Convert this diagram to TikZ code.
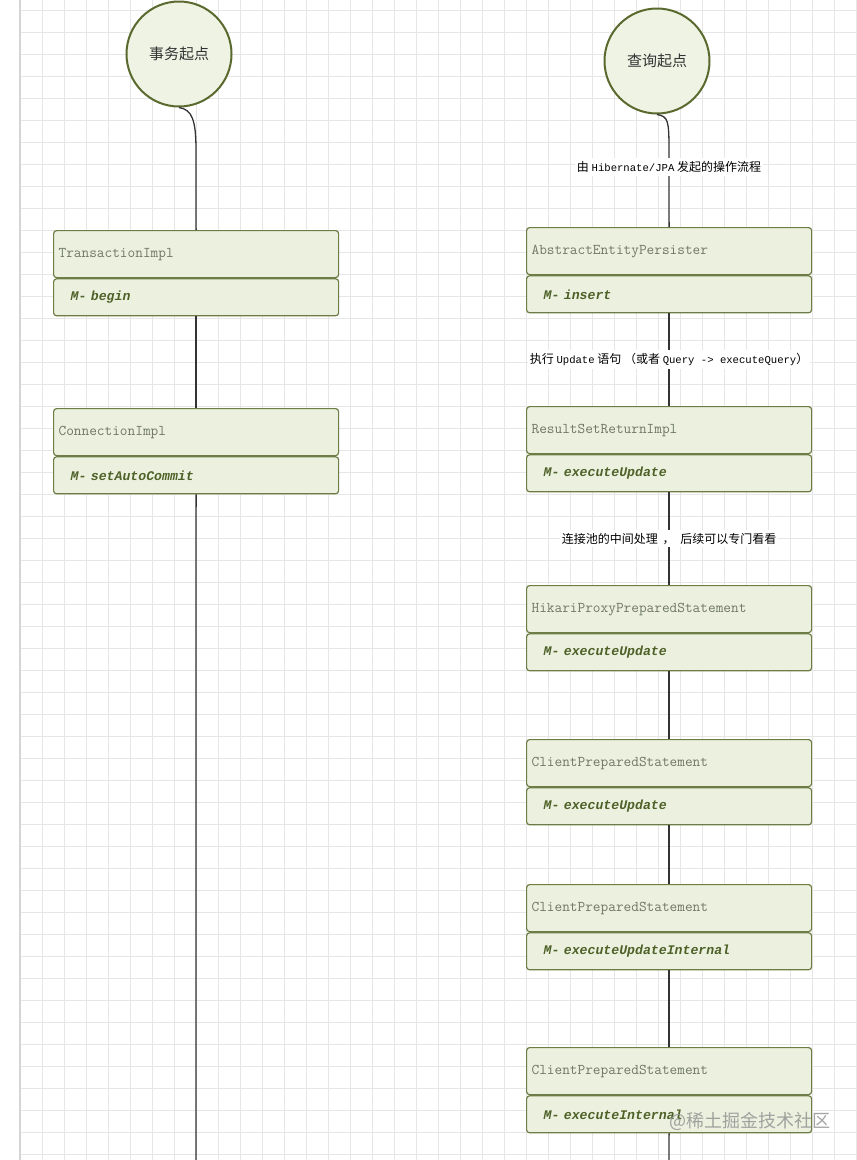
\documentclass[tikz,border=0pt]{standalone}
\usepackage{fontspec}
\newfontfamily\cjk{Noto Sans CJK SC}
\newfontfamily\monofnt{Liberation Mono}
\newfontfamily\lmmono{Latin Modern Mono}
\definecolor{boxfill}{HTML}{EBF1DE}
\definecolor{circfill}{HTML}{EEF3E4}
\definecolor{boxdraw}{HTML}{6E7D45}
\definecolor{circdraw}{HTML}{5A6A2E}
\definecolor{hdrtext}{HTML}{6E7862}
\definecolor{mtext}{HTML}{4E6128}
\definecolor{gridc}{HTML}{E6E6E6}
\definecolor{borderc}{HTML}{D4D4D4}
\newcommand\latw[1]{{\monofnt\fontsize{10.6}{12}\selectfont #1}}
\tikzset{
  hdr/.style={draw=boxdraw, fill=boxfill, line width=1.2pt, rounded corners=3pt,
    minimum height=47pt, inner xsep=5pt, text width=275pt, align=left, anchor=north west,
    font=\lmmono\fontsize{14.9}{16}\selectfont, text=hdrtext},
  mth/.style={draw=boxdraw, fill=boxfill, line width=1.2pt, rounded corners=3pt,
    minimum height=37pt, inner xsep=17pt, text width=251pt, align=left, anchor=north west,
    font=\monofnt\bfseries\itshape\fontsize{13.2}{15}\selectfont, text=mtext},
  circ/.style={circle, draw=circdraw, fill=circfill, line width=2pt, minimum size=105pt,
    font=\cjk\fontsize{15}{17}\selectfont, text=black!80},
  conn/.style={draw=black!80, line width=1.3pt},
  lbl/.style={fill=white, inner xsep=2pt, inner ysep=3pt, font=\cjk\fontsize{12}{14}\selectfont, text=black}
}
\begin{document}
\begin{tikzpicture}[x=1pt,y=-1pt]
\fill[white] (0,0) rectangle (857,1160);
\useasboundingbox (0,0) rectangle (857,1160);
% grid
\foreach \gx in {42,64,...,856} \draw[gridc, line width=0.8pt] (\gx,0) -- (\gx,1160);
\foreach \gy in {10,32,...,1160} \draw[gridc, line width=0.8pt] (20,\gy) -- (857,\gy);
\draw[borderc, line width=1.6pt] (20,0) -- (20,1160);

% left column
\node[circ] (c1) at (179,54) {事务起点};
\node[hdr] (t1h) at (53,230) {TransactionImpl};
\node[mth] (t1m) at (t1h.south west) {M- begin};
\node[hdr] (t2h) at (53,408) {ConnectionImpl};
\node[mth] (t2m) at (t2h.south west) {M- setAutoCommit};
\coordinate (k1) at (196,150);
\coordinate (e1) at (196,1160);
\draw[conn] (c1.south) .. controls +(13,2) and +(0,-30) .. (k1) -- (t1h.north);
\draw[conn] (t1m.south) -- (t2h.north);
\draw[conn] (t2m.south) -- (e1);

% right column
\node[circ] (c2) at (657,61) {查询起点};
\node[hdr] (r1h) at (526,227) {AbstractEntityPersister};
\node[mth] (r1m) at (r1h.south west) {M- insert};
\node[hdr] (r2h) at (526,406) {ResultSetReturnImpl};
\node[mth] (r2m) at (r2h.south west) {M- executeUpdate};
\node[hdr] (r3h) at (526,585) {HikariProxyPreparedStatement};
\node[mth] (r3m) at (r3h.south west) {M- executeUpdate};
\node[hdr] (r4h) at (526,739) {ClientPreparedStatement};
\node[mth] (r4m) at (r4h.south west) {M- executeUpdate};
\node[hdr] (r5h) at (526,884) {ClientPreparedStatement};
\node[mth] (r5m) at (r5h.south west) {M- executeUpdateInternal};
\node[hdr] (r6h) at (526,1047) {ClientPreparedStatement};
\node[mth] (r6m) at (r6h.south west) {M- executeInternal};
\coordinate (k2) at (669,150);
\coordinate (e2) at (669,1160);
\draw[conn] (c2.south) .. controls +(11,2) and +(0,-30) .. (k2)
  -- node[lbl, pos=0.22] {由 \latw{Hibernate/JPA} 发起的操作流程} (r1h.north);
\draw[conn] (r1m.south) -- node[lbl] {执行 \latw{Update} 语句 （或者 \latw{Query -> executeQuery}）} (r2h.north);
\draw[conn] (r2m.south) -- node[lbl] {连接池的中间处理\hspace{2pt} ，\hspace{3pt} 后续可以专门看看} (r3h.north);
\draw[conn] (r3m.south) -- (r4h.north);
\draw[conn] (r4m.south) -- (r5h.north);
\draw[conn] (r5m.south) -- (r6h.north);
\draw[conn] (r6m.south) -- (e2);

% watermark
\node[anchor=west, inner sep=0pt, font=\cjk\fontsize{18}{20}\selectfont, text=black!42, opacity=0.85] (wm) at (669,1121) {@稀土掘金技术社区};
\end{tikzpicture}
\end{document}
